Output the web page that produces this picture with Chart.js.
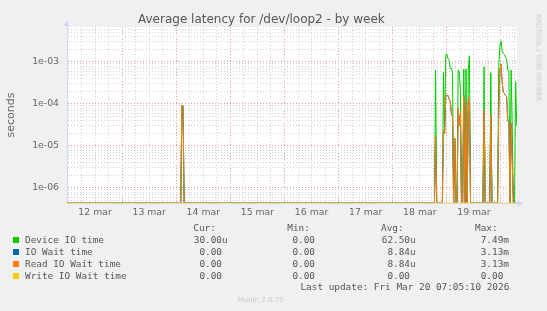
<!DOCTYPE html>
<html><head><meta charset="utf-8">
<script src="https://cdn.jsdelivr.net/npm/chart.js@4"></script>
<style>
html,body{margin:0;padding:0;background:#f0f0f0;}
#wrap{position:relative;width:547px;height:311px;background:#f0f0f0;overflow:hidden;}
#c{position:absolute;left:0;top:0;}
.t{position:absolute;white-space:pre;color:#666;font-family:"DejaVu Sans",sans-serif;}
.m{position:absolute;white-space:pre;color:#555;font-family:"DejaVu Sans Mono",monospace;font-size:9.4px;line-height:12px;height:12px;}
.sq{position:absolute;width:6px;height:6px;}
</style></head><body>
<div id="wrap">
<canvas id="c" width="547" height="311"></canvas>
<div class="t" style="left:138px;top:12px;font-size:12px;line-height:14px;color:#555;">Average latency for /dev/loop2 - by week</div>
<div class="t" style="left:-19px;top:108px;width:60px;height:14px;font-size:11px;line-height:14px;text-align:center;transform:rotate(-90deg);">seconds</div>
<div class="t" style="left:487.5px;top:52px;width:100px;height:11px;font-size:6.8px;line-height:11px;text-align:center;color:#c8c8c8;transform:rotate(90deg);">RRDTOOL / TOBI OETIKER</div>
<div class="t" style="left:237.7px;top:295px;font-size:7px;line-height:10px;color:#c8c8c8;">Munin 2.0.75</div>
</div>
<script>
// ---- data (hours since 12 mar 00:00, 30-min averages) ----
const hours    = [-0.5, 50.0, 50.5, 51.0, 51.5, 162.5, 163.0, 163.5, 166.0, 166.5, 167.0, 167.5, 168.0, 168.5, 169.0, 169.5, 170.0, 170.5, 171.0, 171.5, 172.0, 172.5, 173.0, 173.5, 174.0, 174.5, 175.0, 175.5, 176.0, 176.5, 177.0, 177.5, 178.0, 178.5, 184.0, 184.5, 185.0, 187.0, 187.5, 188.0, 190.5, 191.0, 191.5, 192.0, 192.5, 193.0, 193.5, 194.0, 194.5, 195.0, 195.5, 196.0, 196.5, 197.0, 197.5, 198.0, 198.5, 199.0];
const deviceIO = [0, 0, 9.1e-5, 9.1e-5, 0, 0, 6.4e-4, 0, 0, 5.7e-4, 2.0e-5, 1.5e-3, 1.55e-3, 1.2e-3, 1.1e-3, 7.0e-4, 7.0e-4, 6.0e-4, 0, 1.5e-5, 0, 0, 6.4e-4, 6.0e-4, 2.0e-4, 0, 0, 6.8e-4, 0, 6.8e-4, 0, 6.8e-4, 1.4e-3, 0, 0, 7.7e-4, 0, 0, 5.6e-4, 0, 0, 7.7e-4, 2.5e-3, 3.2e-3, 1.9e-3, 1.6e-3, 1.5e-3, 1.3e-3, 1.2e-3, 6.4e-4, 6.4e-4, 0, 6.4e-4, 2.9e-5, 0, 0, 3.4e-4, 3.0e-5];
const ioWait   = [0, 0, 9.1e-5, 9.1e-5, 0, 0, 1.7e-5, 0, 0, 2.4e-5, 2.0e-5, 1.6e-4, 1.6e-4, 1.6e-4, 1.3e-4, 1.2e-4, 6.0e-5, 5.0e-5, 0, 1.5e-5, 0, 0, 8.0e-5, 3.0e-5, 6.0e-5, 0, 0, 1.6e-4, 0, 1.1e-4, 0, 6.6e-5, 1.5e-4, 0, 0, 7.2e-5, 0, 0, 5.5e-5, 0, 0, 6.0e-5, 6.0e-4, 9.0e-4, 3.5e-4, 1.9e-4, 1.8e-4, 1.6e-4, 1.5e-4, 4.2e-5, 3.5e-5, 0, 3.5e-5, 3.9e-6, 0, 0, 0, 0];
const readIO   = [0, 0, 9.1e-5, 9.1e-5, 0, 0, 1.7e-5, 0, 0, 2.4e-5, 2.0e-5, 1.6e-4, 1.6e-4, 1.6e-4, 1.3e-4, 1.2e-4, 6.0e-5, 5.0e-5, 0, 1.5e-5, 0, 0, 8.0e-5, 3.0e-5, 6.0e-5, 0, 0, 1.6e-4, 0, 1.1e-4, 0, 6.6e-5, 1.5e-4, 0, 0, 7.2e-5, 0, 0, 5.5e-5, 0, 0, 6.0e-5, 6.0e-4, 9.0e-4, 3.5e-4, 1.9e-4, 1.8e-4, 1.6e-4, 1.5e-4, 4.2e-5, 3.5e-5, 0, 3.5e-5, 3.9e-6, 0, 0, 0, 0];
const writeIO  = [0, 0, 0, 0, 0, 0, 0, 0, 0, 0, 0, 0, 0, 0, 0, 0, 0, 0, 0, 0, 0, 0, 0, 0, 0, 0, 0, 0, 0, 0, 0, 0, 0, 0, 0, 0, 0, 0, 0, 0, 0, 0, 0, 0, 0, 0, 0, 0, 0, 0, 0, 0, 0, 0, 0, 0, 0, 0];

const dayLabels   = ['12 mar', '13 mar', '14 mar', '15 mar', '16 mar', '17 mar', '18 mar', '19 mar'];
const yTickLabels = ['1e-06', '1e-05', '1e-04', '1e-03'];

const seriesNames  = ['Device IO time', 'IO Wait time', 'Read IO Wait time', 'Write IO Wait time'];
const seriesColors = ['#00CC00', '#0066B3', '#FF8000', '#FFCC00'];
const curVals = ['30.00u', '0.00 ', '0.00 ', '0.00 '];
const minVals = ['0.00 ', '0.00 ', '0.00 ', '0.00 '];
const avgVals = ['62.50u', '8.84u', '8.84u', '0.00 '];
const maxVals = ['7.49m', '3.13m', '3.13m', '0.00 '];
const colHeads = ['Cur:', 'Min:', 'Avg:', 'Max:'];
const lastUpdate = 'Last update: Fri Mar 20 07:05:10 2026';

// ---- axis range ----
const X_MIN = -0.44, X_MAX = 199.1;
const Y_MIN = 4.39e-7, Y_MAX = 6.81e-3;

const seriesData = [deviceIO, ioWait, readIO, writeIO];
const datasets = seriesData.map((arr, i) => ({
  label: seriesNames[i],
  data: hours.map((h, j) => ({x: h, y: arr[j] === 0 ? Y_MIN : arr[j]})),
  borderColor: seriesColors[i],
  backgroundColor: seriesColors[i],
  borderWidth: 1,
  pointRadius: 0,
  tension: 0,
  fill: false,
  order: 4 - i
}));

const isPow10 = v => { const e = Math.round(Math.log10(v)); return Math.abs(v - Math.pow(10, e)) / v < 1e-6; };

const bgPlugin = {
  id: 'bg',
  beforeDraw(chart) {
    const {ctx, chartArea: a} = chart;
    ctx.save();
    ctx.fillStyle = '#ffffff';
    ctx.fillRect(a.left, a.top, a.right - a.left, a.bottom - a.top);
    ctx.restore();
  },
  afterDraw(chart) {
    const {ctx, chartArea: a} = chart;
    ctx.save();
    ctx.strokeStyle = '#CFD6F8';
    ctx.fillStyle = '#CFD6F8';
    ctx.lineWidth = 1;
    const lx = Math.round(a.left) - 0.5, by = Math.round(a.bottom) + 0.5;
    ctx.beginPath(); ctx.moveTo(lx, a.top); ctx.lineTo(lx, a.top - 2); ctx.stroke();
    ctx.beginPath(); ctx.moveTo(lx - 3, a.top - 1); ctx.lineTo(lx + 3, a.top - 1); ctx.lineTo(lx, a.top - 6); ctx.closePath(); ctx.fill();
    ctx.beginPath(); ctx.moveTo(a.right, by); ctx.lineTo(a.right + 2, by); ctx.stroke();
    ctx.beginPath(); ctx.moveTo(a.right + 1, by - 3); ctx.lineTo(a.right + 1, by + 3); ctx.lineTo(a.right + 6, by); ctx.closePath(); ctx.fill();
    ctx.restore();
  }
};

new Chart(document.getElementById('c'), {
  type: 'line',
  data: {datasets},
  options: {
    responsive: false,
    animation: false,
    events: [],
    layout: {padding: {left: 0, right: 30, top: 27, bottom: 88}},
    plugins: {legend: {display: false}, tooltip: {enabled: false}, title: {display: false}},
    scales: {
      x: {
        type: 'linear', min: X_MIN, max: X_MAX,
        afterBuildTicks: s => { const t = []; for (let h = 0; h <= 198; h += 6) t.push({value: h}); s.ticks = t; },
        afterFit: s => { s.height = 20; },
        ticks: {
          autoSkip: false, maxRotation: 0, padding: 4,
          color: '#666', font: {family: 'DejaVu Sans', size: 9.3},
          callback: v => ((v - 12) % 24 === 0 ? dayLabels[(v - 12) / 24] : '')
        },
        grid: {
          drawTicks: false, lineWidth: 1,
          color: c => (c.tick && c.tick.value % 24 === 0 ? 'rgba(238,120,120,0.75)' : '#d2d2d2')
        },
        border: {display: true, color: '#CFD6F8', width: 1, dash: [1, 2]}
      },
      y: {
        type: 'logarithmic', min: Y_MIN, max: Y_MAX,
        afterBuildTicks: s => {
          const t = [];
          for (let e = -7; e <= -2; e++) for (let m = 1; m <= 9; m++) {
            const v = m * Math.pow(10, e);
            if (v > Y_MIN && v < Y_MAX) t.push({value: v, major: m === 1});
          }
          s.ticks = t;
        },
        afterFit: s => { s.width = 67; },
        ticks: {
          autoSkip: false, padding: 8,
          color: '#666', font: {family: 'DejaVu Sans', size: 9.3},
          callback: v => (isPow10(v) ? (yTickLabels[Math.round(Math.log10(v)) + 6] || '') : '')
        },
        grid: {
          drawTicks: false, lineWidth: 1,
          color: c => (c.tick && isPow10(c.tick.value) ? 'rgba(238,120,120,0.75)' : '#d2d2d2')
        },
        border: {display: true, color: '#CFD6F8', width: 1, dash: [1, 2]}
      }
    }
  },
  plugins: [bgPlugin]
});

// ---- legend (real text) ----
const wrap = document.getElementById('wrap');
const CW = 5.66;
const numRight = [222, 315, 410, 503.3];
const headLeft = [193.3, 287.3, 381, 475];
const rowY = [239.7, 251.7, 263.7, 275.7];
function addText(cls, txt, left, top, extra) {
  const d = document.createElement('div');
  d.className = cls; d.textContent = txt;
  d.style.left = left + 'px'; d.style.top = top + 'px';
  if (extra) Object.assign(d.style, extra);
  wrap.appendChild(d);
  return d;
}
colHeads.forEach((h, i) => addText('m', h, headLeft[i], 228 - 6));
const cols = [curVals, minVals, avgVals, maxVals];
seriesNames.forEach((name, r) => {
  const sq = document.createElement('div');
  sq.className = 'sq';
  sq.style.left = '13px'; sq.style.top = (rowY[r] - 3) + 'px';
  sq.style.background = seriesColors[r];
  wrap.appendChild(sq);
  addText('m', name, 25, rowY[r] - 6);
  cols.forEach((col, c) => {
    const right = numRight[c] + CW;
    addText('m', col[r], right - 60, rowY[r] - 6, {width: '60px', textAlign: 'right'});
  });
});
addText('m', lastUpdate, 309.3 - 200 + 200 - 12, 287.3 - 6, {width: '212px', textAlign: 'right', left: '297.3px'});
</script>
</body></html>
